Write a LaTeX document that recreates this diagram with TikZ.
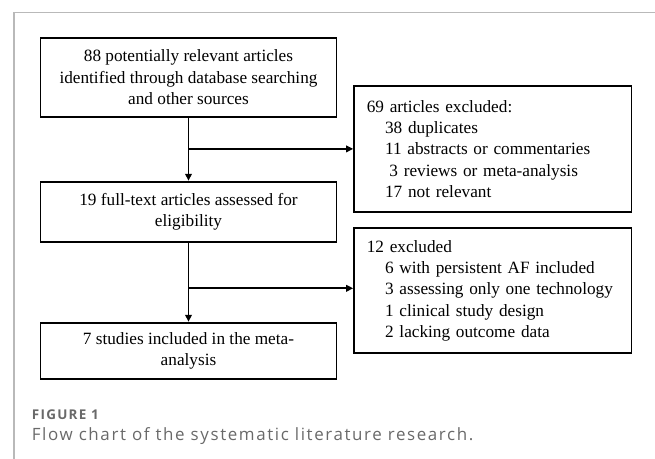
\documentclass[tikz,border=0pt]{standalone}
\usepackage{fontspec}
\setmainfont{Liberation Serif}
\newfontfamily\capfont{Open Sans}[LetterSpace=9.5]
\usetikzlibrary{arrows.meta,positioning}
\definecolor{framegray}{RGB}{185,185,185}
\definecolor{capgray}{RGB}{105,105,105}

\begin{document}
\begin{tikzpicture}[x=1bp,y=-1bp,>={Triangle[length=7bp,width=6.5bp]},
    stagebox/.style={draw,line width=1.8bp,minimum width=296bp,inner sep=0pt,align=center,
      font=\fontsize{17.3}{21.5}\selectfont},
    exclbox/.style={draw,line width=1.8bp,text width=252bp,inner xsep=12.7bp,align=left,
      font=\fontsize{17.3}{21.4}\selectfont,execute at begin node={\hyphenpenalty=10000}},
    flow/.style={line width=1.8bp}]
  \useasboundingbox (0,0) rectangle (655,459);

  % outer frame (top and left only)
  \draw[framegray,line width=1.5bp] (14,459) -- (14,12.3) -- (655,12.3);

  \node[stagebox,minimum height=79bp] (search) at (188.5,77.2)
    {88 potentially relevant articles\\identified through database searching\\and other sources};
  \node[stagebox,minimum height=60bp] (fulltext) at (188.5,211.7)
    {19 full-text articles assessed for\\eligibility};
  \node[stagebox,minimum height=56.6bp] (included) at (188.5,351)
    {7 studies included in the meta-\\analysis};

  \node[exclbox,minimum height=125.7bp] (excl1) at (492.8,148.9)
    {69 articles excluded:\\
     \hspace*{18.3bp}38 duplicates\\
     \hspace*{18.3bp}11 abstracts or commentaries\\
     \hspace*{22.6bp}3 reviews or meta-analysis\\
     \hspace*{18.3bp}17 not relevant};
  \node[exclbox,minimum height=125bp] (excl2) at (492.8,290.8)
    {12 excluded\\
     \hspace*{18.3bp}6 with persistent AF included\\
     \hspace*{18.3bp}3 assessing only one technology\\
     \hspace*{18.3bp}1 clinical study design\\
     \hspace*{18.3bp}2 lacking outcome data};

  \coordinate (split1) at (search.south |- excl1.west);
  \coordinate (split2) at (fulltext.south |- 0,288.3);

  \draw[flow,->] (search) -- (fulltext);
  \draw[flow,->] (split1) -- (excl1);
  \draw[flow,->] (fulltext) -- (included);
  \draw[flow,->] (split2) -- (split2 -| excl2.west);

  % caption
  \node[anchor=west,text=capgray,inner sep=0pt,font=\capfont\bfseries\fontsize{13.5}{16}\selectfont] (figlabel) at (31.7,415) {FIGURE 1};
  \node[anchor=west,text=capgray,inner sep=0pt,font=\capfont\fontsize{17}{19}\selectfont] (figtitle) at (31.7,436)
    {Flow chart of the systematic literature research.};
\end{tikzpicture}
\end{document}
